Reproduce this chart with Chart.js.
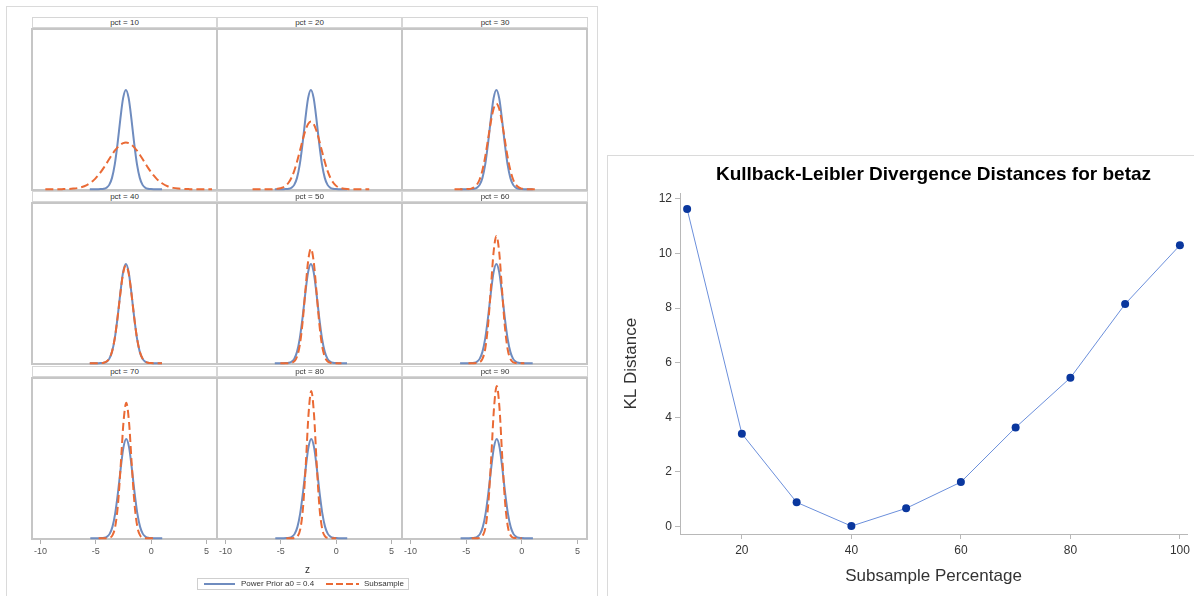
<!DOCTYPE html>
<html>
<head>
<meta charset="utf-8">
<title>Power prior vs subsample densities, KL divergence</title>
<script src="https://cdn.jsdelivr.net/npm/chart.js@4.4.1/dist/chart.umd.min.js"></script>
<style>
  html, body { margin: 0; padding: 0; background: #fff; }
  body { width: 1194px; height: 596px; position: relative; overflow: hidden;
         font-family: "Liberation Sans", Arial, sans-serif; }
  .box { position: absolute; box-sizing: border-box; }
  .frame { border: 1px solid #dadada; }
  .strip { border: 1px solid #d6d6d6; font-size: 8px; line-height: 9px; color: #333; text-align: center; }
  .cell { border: 2px solid #c6c6c6; }
  canvas { position: absolute; }
  .lbl { position: absolute; white-space: nowrap; color: #333; }
</style>
</head>
<body>
<script>
// z values the densities were read at (finer around the peak)
const Z_GRID = [
  -9.5, -9, -8.5, -8, -7.5, -7, -6.5, -6,
  -5.5, -5.25, -5, -4.75, -4.5, -4.25, -4, -3.75, -3.5, -3.25, -3, -2.75, -2.5,
  -2.25, -2, -1.75, -1.5, -1.25, -1, -0.75, -0.5, -0.25, 0, 0.25, 0.5, 0.75, 1,
  1.5, 2, 2.5, 3, 3.5, 4, 4.5, 5, 5.5
];
const Z_TICKS = [-10, -5, 0, 5];
const PANEL_PCT = [10, 20, 30, 40, 50, 60, 70, 80, 90];

// power prior a0 = 0.4 (same curve in every panel), starts at z = -5.5
const PP_FROM = -5.5;
const POWER_PRIOR = [0, 0, 0, 0, 0.001, 0.003, 0.01, 0.029, 0.076, 0.166, 0.305, 0.47, 0.61, 0.665,
  0.61, 0.47, 0.305, 0.166, 0.076, 0.029, 0.01, 0.003, 0.001, 0, 0, 0, 0];

// subsample densities, one per panel, each with its first z value
const SUB_FROM = [-9.5, -7.5, -6, -5.5, -5, -4.75, -4.75, -4.5, -4.5];
const SUB_10 = [0, 0, 0, 0.0005, 0.0014, 0.004, 0.009, 0.02,
  0.04, 0.054, 0.071, 0.092, 0.116, 0.143, 0.172, 0.202, 0.231, 0.258, 0.28, 0.298, 0.309, 0.313,
  0.309, 0.298, 0.28, 0.258, 0.231, 0.202, 0.172, 0.143, 0.116, 0.092, 0.071, 0.054, 0.04,
  0.02, 0.009, 0.004, 0.0014, 0.0005, 0, 0, 0, 0];
const SUB_20 = [0, 0, 0, 0,
  0.001, 0.0025, 0.006, 0.012, 0.024, 0.045, 0.077, 0.123, 0.184, 0.254, 0.327, 0.392, 0.437, 0.453,
  0.437, 0.392, 0.327, 0.254, 0.184, 0.123, 0.077, 0.045, 0.024, 0.012, 0.006, 0.0025, 0.001,
  0, 0, 0, 0];
const SUB_30 = [0,
  0, 0, 0.0004, 0.0014, 0.004, 0.012, 0.03, 0.065, 0.127, 0.218, 0.333, 0.45, 0.539, 0.573,
  0.539, 0.45, 0.333, 0.218, 0.127, 0.065, 0.03, 0.012, 0.004, 0.0014, 0.0004, 0, 0,
  0];
const SUB_40 = [0, 0, 0, 0, 0.001, 0.003, 0.011, 0.031, 0.078, 0.168, 0.305, 0.466, 0.602, 0.655,
  0.602, 0.466, 0.305, 0.168, 0.078, 0.031, 0.011, 0.003, 0.001, 0, 0, 0, 0];
const SUB_50 = [0, 0, 0, 0.0005, 0.003, 0.012, 0.043, 0.121, 0.271, 0.483, 0.683, 0.767,
  0.683, 0.483, 0.271, 0.121, 0.043, 0.012, 0.003, 0.0005, 0, 0, 0];
const SUB_60 = [0, 0, 0, 0.001, 0.0065, 0.029, 0.097, 0.252, 0.496, 0.745, 0.853,
  0.745, 0.496, 0.252, 0.097, 0.029, 0.0065, 0.001, 0, 0, 0];
const SUB_70 = [0, 0, 0, 0.0005, 0.0035, 0.019, 0.077, 0.226, 0.489, 0.777, 0.907,
  0.777, 0.489, 0.226, 0.077, 0.019, 0.0035, 0.0005, 0, 0, 0];
const SUB_80 = [0, 0, 0, 0.0017, 0.012, 0.058, 0.2, 0.486, 0.827, 0.987,
  0.827, 0.486, 0.2, 0.058, 0.012, 0.0017, 0, 0, 0];
const SUB_90 = [0, 0, 0.0004, 0.003, 0.018, 0.077, 0.239, 0.535, 0.868, 1.02,
  0.868, 0.535, 0.239, 0.077, 0.018, 0.003, 0.0004, 0, 0];
const SUBSAMPLE = [SUB_10, SUB_20, SUB_30, SUB_40, SUB_50, SUB_60, SUB_70, SUB_80, SUB_90];

// KL divergence chart
const KL_PCT = [10, 20, 30, 40, 50, 60, 70, 80, 90, 100];
const KL_DIST = [11.63, 3.4, 0.89, 0.02, 0.67, 1.63, 3.63, 5.45, 8.15, 10.3];
const KL_X_TICKS = [20, 40, 60, 80, 100];
const KL_Y_TICKS = [0, 2, 4, 6, 8, 10, 12];

const BLUE = "#6f8cbf";
const ORANGE = "#ea6a35";
const FONT = '"Liberation Sans", Arial, sans-serif';

Chart.defaults.font.family = FONT;

// panel grid geometry
const COL_X = [32, 217, 402];
const COL_W = [185, 185, 186];
const HEAD_Y = [17, 191, 366];
const HEAD_H = 11;
const PLOT_Y = [28, 202, 377];
const PLOT_H = 163;
const AXIS_H = 22;

function add(cls, x, y, w, h, text) {
    const d = document.createElement("div");
    d.className = cls;
    d.style.left = x + "px";
    d.style.top = y + "px";
    if (w != null) d.style.width = w + "px";
    if (h != null) d.style.height = h + "px";
    if (text != null) d.textContent = text;
    document.body.appendChild(d);
    return d;
}

function toPoints(from, vals) {
    const i0 = Z_GRID.indexOf(from);
    return vals.map((v, i) => ({ x: Z_GRID[i0 + i], y: v }));
}

// outer frames
add("box frame", 6, 6, 592, 620);
add("box frame", 607, 155, 620, 500);

function makePanel(i) {
    const r = Math.floor(i / 3), c = i % 3;
    const x = COL_X[c], w = COL_W[c];
    const bottom = r === 2;
    const last = c === 2;

    add("box strip", x, HEAD_Y[r], w, HEAD_H, "pct = " + PANEL_PCT[i]);
    // neighbouring cells share one divider line
    add("box cell", last ? x - 1 : x - 1, PLOT_Y[r], last ? w + 1 : w + 2, PLOT_H);

    const cv = document.createElement("canvas");
    cv.width = w;
    cv.height = PLOT_H + (bottom ? AXIS_H : 0);
    cv.style.left = x + "px";
    cv.style.top = PLOT_Y[r] + "px";
    document.body.appendChild(cv);

    new Chart(cv, {
        type: "line",
        data: {
            datasets: [
                { label: "Subsample", data: toPoints(SUB_FROM[i], SUBSAMPLE[i]),
                  borderColor: ORANGE, borderDash: [8, 4], borderWidth: 2 },
                { label: "Power Prior a0 = 0.4", data: toPoints(PP_FROM, POWER_PRIOR),
                  borderColor: BLUE, borderWidth: 2 }
            ]
        },
        options: {
            responsive: false,
            animation: false,
            events: [],
            layout: { padding: 0 },
            elements: {
                point: { radius: 0 },
                line: { cubicInterpolationMode: "monotone", fill: false }
            },
            plugins: { legend: { display: false }, tooltip: { enabled: false } },
            scales: {
                x: {
                    type: "linear", min: -10.7, max: 5.95, display: bottom,
                    afterBuildTicks: s => { s.ticks = Z_TICKS.map(v => ({ value: v })); },
                    afterFit: s => { if (bottom) s.height = AXIS_H; },
                    ticks: { color: "#555", font: { size: 9 }, padding: 2, maxRotation: 0, autoSkip: false },
                    grid: { drawOnChartArea: false, drawTicks: true, tickLength: 4, color: "#b0b0b0" },
                    border: { display: false }
                },
                y: { display: false, min: -0.012, max: 1.08 }
            }
        }
    });
}

PANEL_PCT.forEach((_, i) => makePanel(i));

// axis label and legend of the panel figure
add("lbl", 305, 564, null, null, "z").style.fontSize = "10px";

const legend = add("box", 197, 578, 212, 12);
legend.style.border = "1px solid #cfcfcf";
legend.innerHTML = `
  <div style="position:absolute;left:6px;top:4px;width:31px;height:2px;background:${BLUE}"></div>
  <div class="lbl" style="left:43px;top:0px;font-size:8px;line-height:10px">Power Prior a0 = 0.4</div>
  <div style="position:absolute;left:128px;top:4px;width:33px;height:2px;
       background:repeating-linear-gradient(to right, ${ORANGE} 0 7px, transparent 7px 10px)"></div>
  <div class="lbl" style="left:166px;top:0px;font-size:8px;line-height:10px">Subsample</div>`;

// KL divergence chart
const kl = document.createElement("canvas");
kl.width = 587;
kl.height = 441;
kl.style.left = "607px";
kl.style.top = "155px";
document.body.appendChild(kl);

new Chart(kl, {
    type: "line",
    data: {
        datasets: [{
            label: "KL Distance",
            data: KL_PCT.map((p, i) => ({ x: p, y: KL_DIST[i] })),
            borderColor: "#6b8fdb",
            borderWidth: 1,
            pointRadius: 4,
            pointBorderWidth: 0,
            pointBackgroundColor: "#0a379e",
            tension: 0
        }]
    },
    options: {
        responsive: false,
        animation: false,
        events: [],
        layout: { padding: { left: 0, right: 5, top: 0, bottom: 0 } },
        plugins: {
            legend: { display: false },
            tooltip: { enabled: false },
            title: {
                display: true,
                fullSize: false,
                text: "Kullback-Leibler Divergence Distances for betaz",
                color: "#000",
                font: { size: 19, weight: "bold" },
                padding: { top: 8.6, bottom: 7 }
            }
        },
        scales: {
            x: {
                type: "linear", min: 8.7, max: 101.3,
                afterBuildTicks: s => { s.ticks = KL_X_TICKS.map(v => ({ value: v })); },
                afterFit: s => { s.height = 62; },
                ticks: { color: "#333", font: { size: 12 }, padding: 4, maxRotation: 0, autoSkip: false },
                grid: { drawOnChartArea: false, drawTicks: true, tickLength: 5, color: "#b8b8b8" },
                border: { color: "#b8b8b8" },
                title: { display: true, text: "Subsample Percentage", color: "#333",
                         font: { size: 17 }, padding: { top: 0, bottom: 9 } }
            },
            y: {
                min: -0.27, max: 12.2,
                afterBuildTicks: s => { s.ticks = KL_Y_TICKS.map(v => ({ value: v })); },
                afterFit: s => { s.width = 73; },
                ticks: { color: "#333", font: { size: 12 }, padding: 3 },
                grid: { drawOnChartArea: false, drawTicks: true, tickLength: 5, color: "#b8b8b8" },
                border: { color: "#b8b8b8" },
                title: { display: true, text: "KL Distance", color: "#333",
                         font: { size: 17 }, padding: { top: 14, bottom: 0 } }
            }
        }
    }
});
</script>
</body>
</html>
